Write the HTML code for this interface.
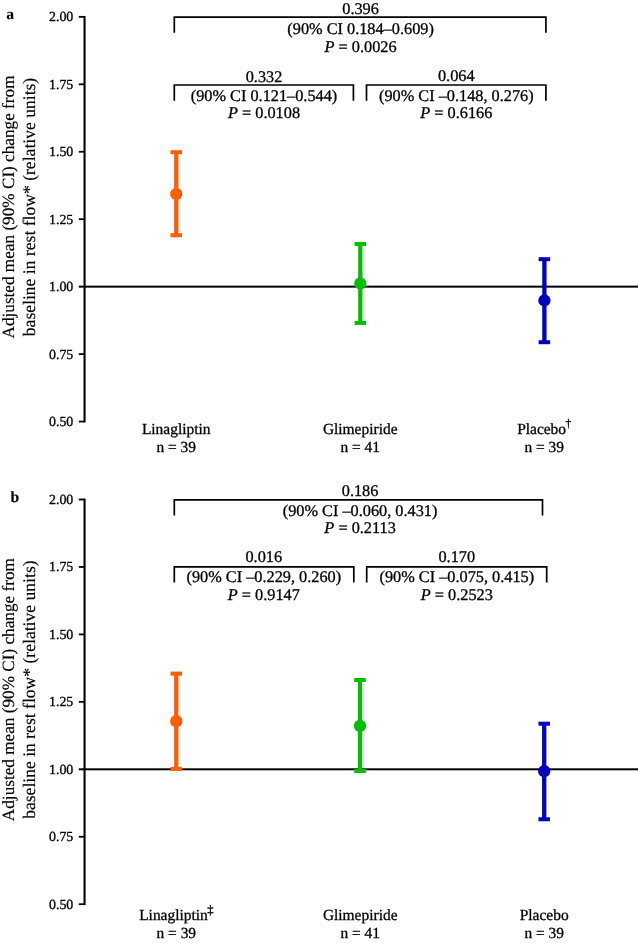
<!DOCTYPE html>
<html><head><meta charset="utf-8"><title>Figure</title>
<style>
html,body{margin:0;padding:0;background:#fff;}
#wrap{width:638px;height:943px;will-change:transform;background:#fff;overflow:hidden;}
svg{display:block;}
text{font-family:"Liberation Serif",serif;fill:#000;text-rendering:geometricPrecision;stroke:#000;stroke-width:0.3px;}
.tk{font-size:13.9px;text-anchor:end;}
.an{font-size:16.3px;text-anchor:middle;}
.xl{font-size:15.45px;text-anchor:middle;}
.yt{font-size:17.2px;text-anchor:middle;stroke-width:0.15px;}
.yt2{font-size:17.6px;text-anchor:middle;stroke-width:0.15px;}
.pl{font-size:15.6px;font-weight:bold;stroke-width:0.1px;}
</style></head>
<body>
<div id="wrap">
<svg width="638" height="943" viewBox="0 0 638 943">
<rect width="638" height="943" fill="#fff"/>
<g>
<rect x="83.5" y="16.05" width="2.1" height="406.30" fill="#000"/>
<rect x="78.8" y="15.95" width="6.20" height="1.8" fill="#000"/>
<text x="73.3" y="21.30" class="tk">2.00</text>
<rect x="78.8" y="83.40" width="6.20" height="1.8" fill="#000"/>
<text x="73.3" y="88.75" class="tk">1.75</text>
<rect x="78.8" y="150.85" width="6.20" height="1.8" fill="#000"/>
<text x="73.3" y="156.20" class="tk">1.50</text>
<rect x="78.8" y="218.30" width="6.20" height="1.8" fill="#000"/>
<text x="73.3" y="223.65" class="tk">1.25</text>
<rect x="78.8" y="285.65" width="559.20" height="2.0" fill="#000"/>
<text x="73.3" y="291.10" class="tk">1.00</text>
<rect x="78.8" y="353.20" width="6.20" height="1.8" fill="#000"/>
<text x="73.3" y="358.55" class="tk">0.75</text>
<rect x="78.8" y="420.65" width="6.20" height="1.8" fill="#000"/>
<text x="73.3" y="426.00" class="tk">0.50</text>
<text x="6.2" y="19.45" class="pl">a</text>
<text transform="translate(14.0,207) rotate(-90)" class="yt">Adjusted mean (90% CI) change from</text>
<text transform="translate(34.6,207) rotate(-90)" class="yt2">baseline in rest flow* (relative units)</text>
<polyline points="174.3,32.8 174.3,17.1 545.9,17.1 545.9,32.8" fill="none" stroke="#000" stroke-width="1.7" stroke-linejoin="miter"/>
<polyline points="174.3,100.7 174.3,85.0 353.4,85.0 353.4,100.7" fill="none" stroke="#000" stroke-width="1.7" stroke-linejoin="miter"/>
<polyline points="366.5,100.7 366.5,85.0 545.9,85.0 545.9,100.7" fill="none" stroke="#000" stroke-width="1.7" stroke-linejoin="miter"/>
<text x="360.6" y="14.10" class="an">0.396</text>
<text x="360.6" y="33.80" class="an">(90% CI 0.184–0.609)</text>
<text x="360.6" y="51.70" class="an"><tspan font-style="italic">P</tspan> = 0.0026</text>
<text x="264" y="81.80" class="an">0.332</text>
<text x="264" y="100.80" class="an">(90% CI 0.121–0.544)</text>
<text x="264" y="118.10" class="an"><tspan font-style="italic">P</tspan> = 0.0108</text>
<text x="456.3" y="80.50" class="an">0.064</text>
<text x="456.3" y="100.60" class="an">(90% CI –0.148, 0.276)</text>
<text x="456.3" y="118.10" class="an"><tspan font-style="italic">P</tspan> = 0.6166</text>
<g fill="#FF5F03"><rect x="174.10" y="152.20" width="4.3" height="83.00"/><rect x="170.50" y="150.20" width="11.5" height="4"/><rect x="170.50" y="233.20" width="11.5" height="4"/><circle cx="176.25" cy="194.00" r="6.15"/></g>
<g fill="#03BE03"><rect x="358.15" y="244.00" width="4.3" height="78.90"/><rect x="354.55" y="242.00" width="11.5" height="4"/><rect x="354.55" y="320.90" width="11.5" height="4"/><circle cx="360.30" cy="283.50" r="6.15"/></g>
<g fill="#0202BE"><rect x="542.25" y="259.20" width="4.3" height="83.00"/><rect x="538.65" y="257.20" width="11.5" height="4"/><rect x="538.65" y="340.20" width="11.5" height="4"/><circle cx="544.40" cy="300.50" r="6.15"/></g>
<text x="176.2" y="434.10" class="xl">Linagliptin</text>
<text x="176.2" y="451.90" class="xl">n = 39</text>
<text x="360.2" y="434.10" class="xl">Glimepiride</text>
<text x="360.2" y="451.90" class="xl">n = 41</text>
<text x="544.2" y="434.10" class="xl">Placebo<tspan font-size="11.5" dy="-7.0" dx="-0.6">†</tspan></text>
<text x="544.2" y="451.90" class="xl">n = 39</text>
</g>
<g>
<rect x="83.5" y="498.70" width="2.1" height="406.30" fill="#000"/>
<rect x="78.8" y="498.60" width="6.20" height="1.8" fill="#000"/>
<text x="73.3" y="503.95" class="tk">2.00</text>
<rect x="78.8" y="566.05" width="6.20" height="1.8" fill="#000"/>
<text x="73.3" y="571.40" class="tk">1.75</text>
<rect x="78.8" y="633.50" width="6.20" height="1.8" fill="#000"/>
<text x="73.3" y="638.85" class="tk">1.50</text>
<rect x="78.8" y="700.95" width="6.20" height="1.8" fill="#000"/>
<text x="73.3" y="706.30" class="tk">1.25</text>
<rect x="78.8" y="768.30" width="559.20" height="2.0" fill="#000"/>
<text x="73.3" y="773.75" class="tk">1.00</text>
<rect x="78.8" y="835.85" width="6.20" height="1.8" fill="#000"/>
<text x="73.3" y="841.20" class="tk">0.75</text>
<rect x="78.8" y="903.30" width="6.20" height="1.8" fill="#000"/>
<text x="73.3" y="908.65" class="tk">0.50</text>
<text x="10.6" y="502.10" class="pl">b</text>
<text transform="translate(14.0,689.65) rotate(-90)" class="yt">Adjusted mean (90% CI) change from</text>
<text transform="translate(34.6,689.65) rotate(-90)" class="yt2">baseline in rest flow* (relative units)</text>
<polyline points="174.3,515.5500000000001 174.3,499.85 542.5,499.85 542.5,515.5500000000001" fill="none" stroke="#000" stroke-width="1.7" stroke-linejoin="miter"/>
<polyline points="174.3,582.5500000000001 174.3,566.85 353.8,566.85 353.8,582.5500000000001" fill="none" stroke="#000" stroke-width="1.7" stroke-linejoin="miter"/>
<polyline points="366.7,582.5500000000001 366.7,566.85 546.7,566.85 546.7,582.5500000000001" fill="none" stroke="#000" stroke-width="1.7" stroke-linejoin="miter"/>
<text x="360.1" y="496.00" class="an">0.186</text>
<text x="360.1" y="515.70" class="an">(90% CI –0.060, 0.431)</text>
<text x="360.1" y="533.40" class="an"><tspan font-style="italic">P</tspan> = 0.2113</text>
<text x="263.8" y="562.25" class="an">0.016</text>
<text x="263.8" y="581.70" class="an">(90% CI –0.229, 0.260)</text>
<text x="263.8" y="599.90" class="an"><tspan font-style="italic">P</tspan> = 0.9147</text>
<text x="456.8" y="561.60" class="an">0.170</text>
<text x="456.8" y="581.70" class="an">(90% CI –0.075, 0.415)</text>
<text x="456.8" y="599.60" class="an"><tspan font-style="italic">P</tspan> = 0.2523</text>
<g fill="#FF5F03"><rect x="174.10" y="673.60" width="4.3" height="95.30"/><rect x="170.50" y="671.60" width="11.5" height="4"/><rect x="170.50" y="766.90" width="11.5" height="4"/><circle cx="176.25" cy="721.20" r="6.15"/></g>
<g fill="#03BE03"><rect x="357.85" y="680.00" width="4.3" height="91.00"/><rect x="354.25" y="678.00" width="11.5" height="4"/><rect x="354.25" y="769.00" width="11.5" height="4"/><circle cx="360.00" cy="725.80" r="6.15"/></g>
<g fill="#0202BE"><rect x="542.05" y="723.70" width="4.3" height="95.55"/><rect x="538.45" y="721.70" width="11.5" height="4"/><rect x="538.45" y="817.25" width="11.5" height="4"/><circle cx="544.20" cy="771.20" r="6.15"/></g>
<text x="176.3" y="919.90" class="xl">Linagliptin<tspan font-size="12.5" dy="-5.6" dx="-0.6">‡</tspan></text>
<text x="176.3" y="937.50" class="xl">n = 39</text>
<text x="360.2" y="919.90" class="xl">Glimepiride</text>
<text x="360.2" y="937.50" class="xl">n = 41</text>
<text x="544.2" y="919.90" class="xl">Placebo</text>
<text x="544.2" y="937.50" class="xl">n = 39</text>
</g>
</svg>
</div>
</body></html>
